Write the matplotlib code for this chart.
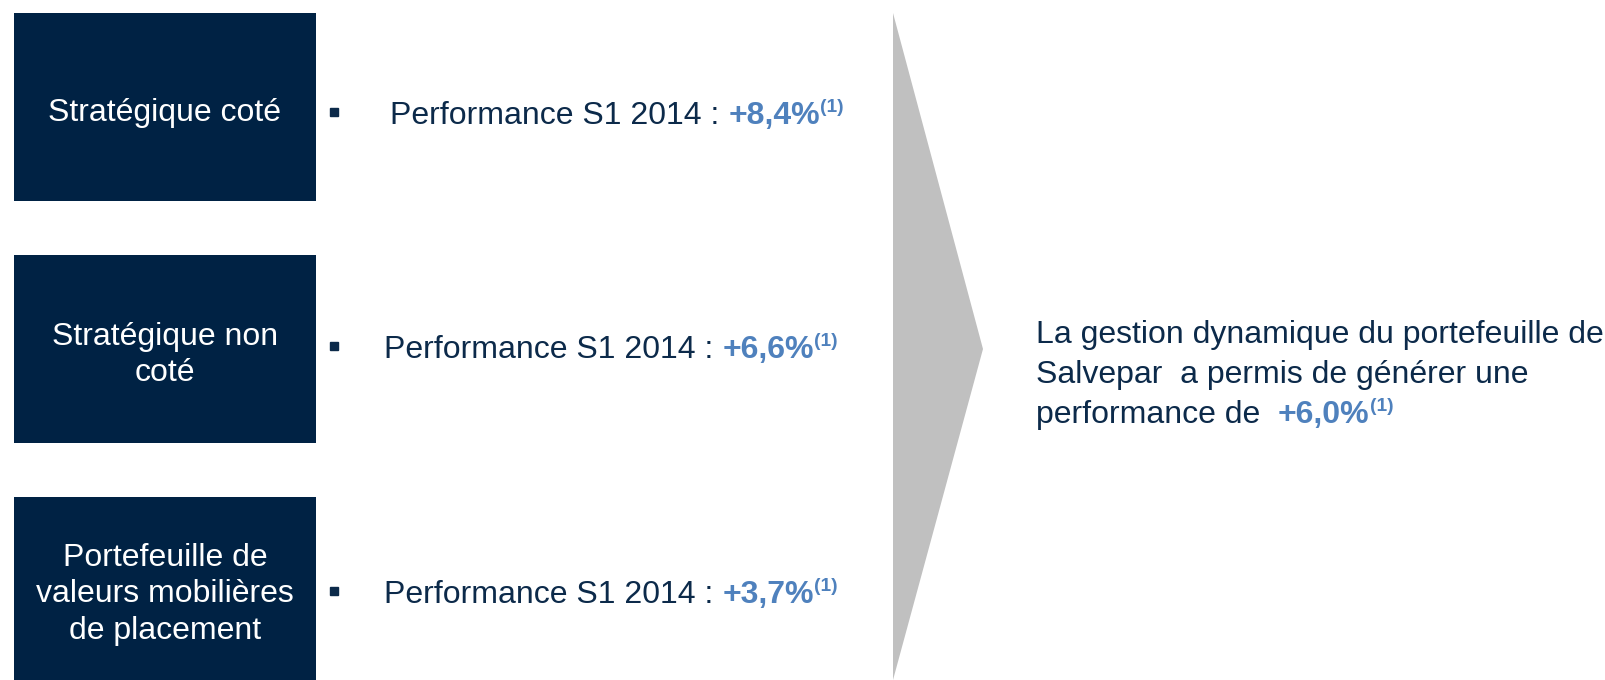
import matplotlib
matplotlib.use("Agg")
import matplotlib.pyplot as plt
from matplotlib.patches import Rectangle, Polygon

# ---- data ----
categories = ["Stratégique coté", "Stratégique non\ncoté",
              "Portefeuille de\nvaleurs mobilières\nde placement"]
perf_label = "Performance S1 2014 : "
perf_values = ["+8,4%", "+6,6%", "+3,7%"]
footnote = "(1)"
summary_lines = ["La gestion dynamique du portefeuille de",
                 "Salvepar  a permis de générer une",
                 "performance de  "]
summary_value = "+6,0%"

# ---- styles ----
W, H, DPI = 1605, 680, 100
BOX = "#002244"
NAVY = "#0c2a4a"
BLUE = "#4f81bd"
GREY = "#c0c0c0"
FONT = "Liberation Sans"
FS = 23

fig = plt.figure(figsize=(W / DPI, H / DPI), dpi=DPI)
ax = fig.add_axes([0, 0, 1, 1])
ax.set_xlim(0, W)
ax.set_ylim(H, 0)
ax.axis("off")

box_tops = [13, 255, 497]
box_bottoms = [201, 443, 680]
text_x = [390, 384, 384]
text_y = [124, 358, 603]

renderer = fig.canvas.get_renderer()


def run(x, y, pieces):
    """Draw text pieces sequentially on the same baseline."""
    for s, color, weight, size, dy in pieces:
        t = ax.text(x, y - dy, s, color=color, fontweight=weight, fontsize=size,
                    family=FONT, ha="left", va="baseline")
        bb = t.get_window_extent(renderer)
        x = x + bb.width * (W / fig.bbox.width)
    return x


for i, cat in enumerate(categories):
    top, bot = box_tops[i], box_bottoms[i]
    ax.add_patch(Rectangle((14, top), 302, bot - top, facecolor=BOX, edgecolor="none"))
    cy = (top + min(bot, top + 188)) / 2 + 6
    ax.text(165, cy, cat, color="white", fontsize=FS, family=FONT,
            ha="center", va="center", linespacing=1.3)
    ax.plot([334], [text_y[i] - 12], marker="s", markersize=5.5, color=NAVY,
            linestyle="none")
    run(text_x[i], text_y[i], [
        (perf_label, NAVY, "normal", FS, 0),
        (perf_values[i], BLUE, "bold", FS, 0),
        (footnote, BLUE, "bold", FS * 0.6, 12),
    ])

# arrow
ax.add_patch(Polygon([(893, 13), (983, 349), (893, 680)], closed=True,
                     facecolor=GREY, edgecolor="none"))

# summary text
sx = 1036
sy0 = 343
lh = 40
for j, line in enumerate(summary_lines[:-1]):
    ax.text(sx, sy0 + j * lh, line, color=NAVY, fontsize=FS, family=FONT,
            ha="left", va="baseline")
run(sx, sy0 + 2 * lh, [
    (summary_lines[-1], NAVY, "normal", FS, 0),
    (summary_value, BLUE, "bold", FS, 0),
    (footnote, BLUE, "bold", FS * 0.6, 12),
])

fig.savefig("out.png", dpi=DPI, facecolor="white")
